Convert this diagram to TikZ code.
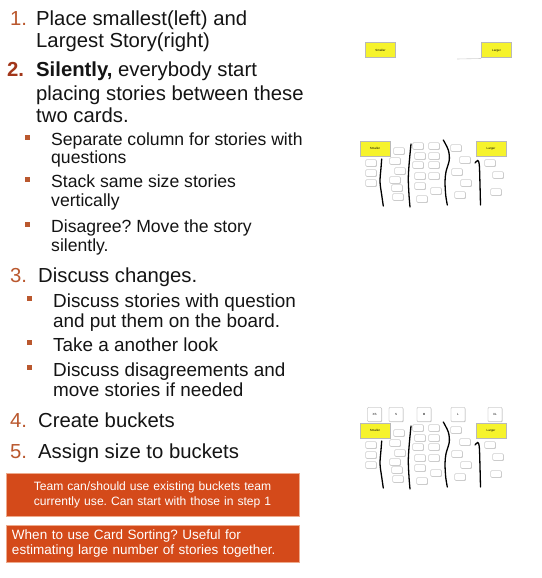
\documentclass[tikz,border=0pt]{standalone}
\usepackage{fontspec}
\setmainfont{Liberation Sans}
\usetikzlibrary{shadows}

\definecolor{stepnum}{RGB}{186,88,46}
\definecolor{stepbold}{RGB}{162,54,26}
\definecolor{notefill}{RGB}{212,74,26}
\definecolor{noteline}{RGB}{238,170,140}
\definecolor{cardyel}{RGB}{246,243,44}

\begin{document}
\frenchspacing
\begin{tikzpicture}[x=1pt, y=-1pt,
  line/.style={anchor=base west, inner sep=0pt, text=black!92},
  num/.style={anchor=base west, inner sep=0pt, text=stepnum},
  sq/.style={fill=stepnum, minimum size=5pt, inner sep=0pt},
  card/.style={draw=gray!70, fill=white, minimum width=10.5pt, minimum height=6.5pt, inner sep=0pt,
    rounded corners=0.8pt, drop shadow={shadow xshift=0.6pt, shadow yshift=-0.6pt, opacity=0.35}},
  endcard/.style={draw=gray!55, line width=1pt, fill=cardyel, minimum width=30pt, minimum height=15pt,
    inner sep=0pt, font=\fontsize{3}{3}\selectfont},
  bucket/.style={card, minimum width=14pt, minimum height=14pt, font=\fontsize{3}{3}\selectfont},
  divider/.style={line width=1.3pt, line cap=round},
  note/.style={fill=notefill, draw=noteline, line width=0.5pt, text=white, text width=281pt,
    inner xsep=6pt, inner ysep=0pt, minimum width=293pt}
]

% Sizes
\def\stepfs{20.3}
\def\subfs{17.6}
\def\subfsb{18.9}

\fill[white] (0,0) rectangle (541,578);
\useasboundingbox (0,0) rectangle (541,578);

% Step numbers
\foreach \n/\y in {1/26, 3/282, 4/427, 5/458} {
  \node[num, font=\fontsize{\stepfs}{24}\selectfont] (num\n) at (10,\y) {\n.};
}
\node[num, text=stepbold, font=\fontsize{\stepfs}{24}\selectfont\bfseries] (num2) at (7,77) {2.};

% Step texts
\foreach \i/\x/\y/\text in {
a/36/26/Place smallest(left) and,
b/36/48/Largest Story(right),
c/36/77/{\textbf{Silently,} everybody start},
d/36/100/placing stories between these,
e/36/122/two cards.,
f/38/282/Discuss changes.,
g/38/427/Create buckets,
h/38/458/Assign size to buckets
} {
  \node[line, font=\fontsize{\stepfs}{24}\selectfont] (step\i) at (\x,\y) {\text};
}

% Sub points of step 2
\foreach \i/\y/\text in {
a/145/Separate column for stories with,
b/163/questions,
c/187/Stack same size stories,
d/206/vertically,
e/232/Disagree? Move the story,
f/251/silently.
} {
  \node[line, font=\fontsize{\subfs}{20}\selectfont] (subb\i) at (51,\y) {\text};
}
\foreach \i/\y in {a/145, c/187, e/232} {
  \node[sq] (sqb\i) at (27.5,\y-8) {};
}

% Sub points of step 3
\foreach \i/\y/\text in {
a/307/Discuss stories with question,
b/327/and put them on the board.,
c/351/Take a another look,
d/376/Discuss disagreements and,
e/396/move stories if needed
} {
  \node[line, font=\fontsize{\subfsb}{21}\selectfont] (subc\i) at (53,\y) {\text};
}
\foreach \i/\y in {a/307, c/351, d/376} {
  \node[sq] (sqc\i) at (29.5,\y-8.5) {};
}

% Notes
\node[note, align=center, minimum height=43pt, font=\fontsize{12.1}{15}\selectfont]
      (bucketnote) at (152.5,494.5) {Team can/should use existing buckets team\\currently use. Can start with those in step 1};
\node[note, align=left, minimum height=37pt, font=\fontsize{13.5}{15}\selectfont]
      (whennote) at (152.5,543.5) {When to use Card Sorting? Useful for\\estimating large number of stories together.};

% Board 1: the two end cards
\node[endcard] (small1) at (380.5,50.5) {Smaller};
\node[endcard] (large1) at (496.5,50.5) {Larger};
\coordinate (smear) at (457,59);
\draw[gray!35, line width=0.6pt] (smear) -- (large1.south west);

% Boards 2 and 3: stories sorted in columns
\foreach \b/\dy in {2/0, 3/282} {
  \begin{scope}[shift={(0,\dy)}]
    \node[endcard] (small\b) at (375,148.5) {Smaller};
    \node[endcard] (large\b) at (491,148.5) {Larger};
    \foreach \k/\x/\y in {
      1/371/163, 2/371/173, 3/371/183,
      4/399/151, 5/395/161, 6/400/171, 7/395/180, 8/397/188, 9/398/197,
      10/418/146, 11/420/156, 12/418/165, 13/420/176, 14/420/186, 15/422/199,
      16/434/146, 17/434/156, 18/434/165, 19/434/176, 20/436/191,
      21/456/148, 22/465/160, 23/457/172, 24/466/183, 25/460/195,
      26/490/163, 27/498/175, 28/496/192
    } {
      \node[card] (s\b-\k) at (\x,\y) {};
    }
    \draw[divider] plot[smooth] coordinates {(381.7,159) (381,168) (380,181.7) (381.7,195) (383.3,206)};
    \draw[divider] plot[smooth] coordinates {(411,144) (409.3,161.7) (408.3,178.3) (409,195) (410,207)};
    \draw[divider] plot[smooth] coordinates {(443.3,140) (448.3,150) (449.3,160) (446,171.7) (445,181.7) (445.7,195) (447.3,205)};
    \draw[divider] plot[smooth] coordinates {(475,163) (477.7,160.5) (479.3,165) (480,185) (480.5,205)};
  \end{scope}
}

% Board 3: bucket cards
\foreach \k/\x in {XS/374.5, S/396, M/424, L/458, XL/495} {
  \node[bucket] (bucket\k) at (\x,414.5) {\k};
}

\end{tikzpicture}
\end{document}
